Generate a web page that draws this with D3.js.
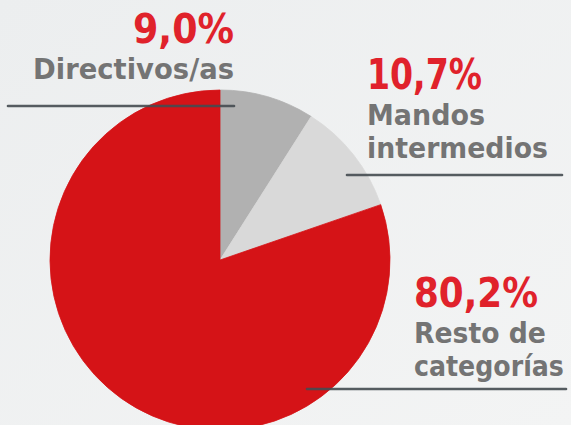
<!DOCTYPE html>
<html><head><meta charset="utf-8">
<script src="https://cdn.jsdelivr.net/npm/d3@7"></script>
<style>
html,body{margin:0;padding:0;background:#eff0f1;}
svg{display:block;}
</style></head>
<body>
<script>
const categories = ["Directivos/as", "Mandos intermedios", "Resto de categorías"];
const values = [9.0, 10.7, 80.2];
const percentLabels = ["9,0%", "10,7%", "80,2%"];
const labelLines = [["Directivos/as"], ["Mandos", "intermedios"], ["Resto de", "categorías"]];
const colors = ["#b1b1b1", "#d9d9d9", "#d51317"];

const W = 571, H = 425;
const svg = d3.select("body").append("svg").attr("width", W).attr("height", H);

const defs = svg.append("defs");
const bg = defs.append("linearGradient").attr("id","bg").attr("x1","0").attr("y1","0").attr("x2","1").attr("y2","1");
bg.append("stop").attr("offset","0").attr("stop-color","#eceeef");
bg.append("stop").attr("offset","1").attr("stop-color","#f3f4f4");
svg.append("rect").attr("width", W).attr("height", H).attr("fill", "url(#bg)");

const cx = 220, cy = 260, r = 170;
const pie = d3.pie().sort(null).value(d => d);
const arc = d3.arc().innerRadius(0).outerRadius(r);
const color = d3.scaleOrdinal().domain(categories).range(colors);

svg.append("g").attr("transform", `translate(${cx},${cy})`)
  .selectAll("path").data(pie(values)).join("path")
  .attr("d", arc)
  .attr("fill", (d, i) => color(categories[i]))
  .attr("stroke", (d, i) => color(categories[i]))
  .attr("stroke-width", 0.8);

// leader lines
const leaders = [
  {x1: 8, x2: 234, y: 106},
  {x1: 347, x2: 562, y: 175},
  {x1: 307, x2: 566, y: 389}
];
svg.append("g").selectAll("line").data(leaders).join("line")
  .attr("x1", d => d.x1).attr("x2", d => d.x2)
  .attr("y1", d => d.y).attr("y2", d => d.y)
  .attr("stroke", "#454c51").attr("stroke-width", 2.6).attr("stroke-linecap", "round")
  .attr("opacity", 0.9);

// label layout
const layout = [
  {anchor: "end", x: 234, pctY: 43, pctSize: 41, pctW: 101, size: 28, lineY: [79], lineW: [201]},
  {anchor: "start", x: 367, pctY: 89, pctSize: 42, pctW: 115, size: 28, lineY: [125, 158], lineW: [118, 181]},
  {anchor: "start", x: 414, pctY: 307, pctSize: 40, pctW: 124, size: 28, lineY: [343, 376], lineW: [132, 150]}
];
const font = "'DejaVu Sans', sans-serif";
const lg = svg.append("g");

function fitText(str, x, y, anchor, size, width, fill) {
  const g = lg.append("g");
  const t = g.append("text").text(str)
    .attr("x", 0).attr("y", 0)
    .attr("text-anchor", anchor)
    .attr("font-family", font).attr("font-weight", 700).attr("font-size", size)
    .attr("fill", fill);
  const natural = t.node().getComputedTextLength();
  const sx = width / natural;
  g.attr("transform", `translate(${x},${y}) scale(${sx},1)`);
}

percentLabels.forEach((p, i) => {
  const L = layout[i];
  fitText(p, L.x, L.pctY, L.anchor, L.pctSize, L.pctW, "#e0222b");
  labelLines[i].forEach((t, j) => {
    fitText(t, L.x, L.lineY[j], L.anchor, L.size, L.lineW[j], "#747474");
  });
});
</script>
</body></html>
